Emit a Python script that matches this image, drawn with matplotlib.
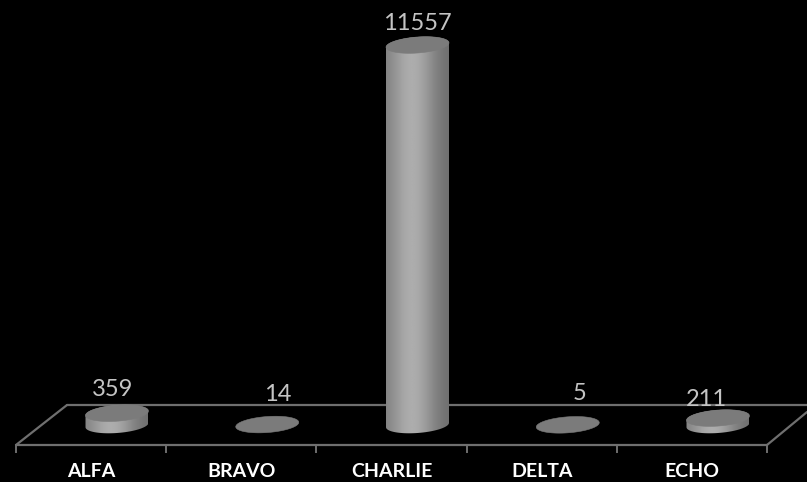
import numpy as np
import matplotlib.pyplot as plt
from matplotlib.patches import Polygon

categories = ['ALFA', 'BRAVO', 'CHARLIE', 'DELTA', 'ECHO']
values = [359, 14, 11557, 5, 211]

# label nudges in pixels, the labels are not centred on the bars in the original
label_dx = [-4, 10, 0, 12, -12]
label_dy = [9, 16, 7, 17, 4]

W, H = 807, 482
X0, STEP = 117, 150.25     # pixel centre of first bar, spacing
BASE_Y = 425               # pixel y of value 0
PX_PER_UNIT = 380 / 11557
A, B, SHEAR = 31.5, 8.0, 0.07   # ellipse half width, half height, tilt
LINE = '#6f6f6f'

plt.rcParams['font.family'] = ['Lato', 'DejaVu Sans']

fig = plt.figure(figsize=(W / 100, H / 100), dpi=100, facecolor='black')
ax = fig.add_axes([0, 0, 1, 1], facecolor='black')
ax.axis('off')


def dx(px):
    return px / STEP


def dy(px):
    return px / PX_PER_UNIT


def to_data(px, py):
    return (px - X0) / STEP, (BASE_Y - py) / PX_PER_UNIT


def ellipse_pts(i, v, t):
    x = i + dx(A) * np.cos(t)
    y = v + dy(B) * np.sin(t) + dy(SHEAR * A) * np.cos(t)
    return np.column_stack([x, y])


# floor
front_l, front_r = (16, 445), (767, 445)
back_l, back_r = (67, 405), (807, 405)
for a, b in [(front_l, front_r), (back_l, back_r), (front_l, back_l), (front_r, (807, 412))]:
    p, q = to_data(*a), to_data(*b)
    ax.plot([p[0], q[0]], [p[1], q[1]], color=LINE, lw=1.6, zorder=1, solid_capstyle='round')
for k in range(6):
    tx = 16 + k * (767 - 16) / 5
    p, q = to_data(tx, 445), to_data(tx, 452)
    ax.plot([p[0], q[0]], [p[1], q[1]], color=LINE, lw=1.4, zorder=1)

# horizontal shading of the cylinder body
g = np.linspace(0, 1, 128)
shade = 114 + 62 * np.exp(-((g - 0.42) / 0.38) ** 2) - 8 * g
shade = np.tile(shade / 255, (2, 1))

for i, v in enumerate(values):
    t_low = np.linspace(np.pi, 2 * np.pi, 60)
    t_up = np.linspace(0, np.pi, 60)
    if v > 50:
        body = np.vstack([ellipse_pts(i, 0, t_low), ellipse_pts(i, v, t_up)])
        patch = Polygon(body, closed=True, facecolor='none', edgecolor='none')
        ax.add_patch(patch)
        im = ax.imshow(shade, cmap='gray', vmin=0, vmax=1, aspect='auto', zorder=3,
                       extent=[i - dx(A), i + dx(A), -dy(20), v + dy(20)],
                       interpolation='bilinear')
        im.set_clip_path(patch)
    t = np.linspace(0, 2 * np.pi, 120)
    ax.add_patch(Polygon(ellipse_pts(i, v, t), closed=True, facecolor='#7b7b7b',
                         edgecolor='#7b7b7b', lw=0.4, zorder=4))
    ax.text(i + dx(label_dx[i]), v + dy(B + label_dy[i]), str(v), ha='center', va='baseline',
            color='#c4c4c4', fontsize=17, zorder=5)
    # category names sit in the middle of the tick interval
    ax.text(i - dx(26), to_data(0, 477)[1], categories[i], ha='center', va='baseline',
            color='white', fontsize=14, fontweight='bold', zorder=5)

ax.set_xlim((0 - X0) / STEP, (W - X0) / STEP)
ax.set_ylim((BASE_Y - H) / PX_PER_UNIT, BASE_Y / PX_PER_UNIT)

fig.savefig('out.png', dpi=100, facecolor='black')
